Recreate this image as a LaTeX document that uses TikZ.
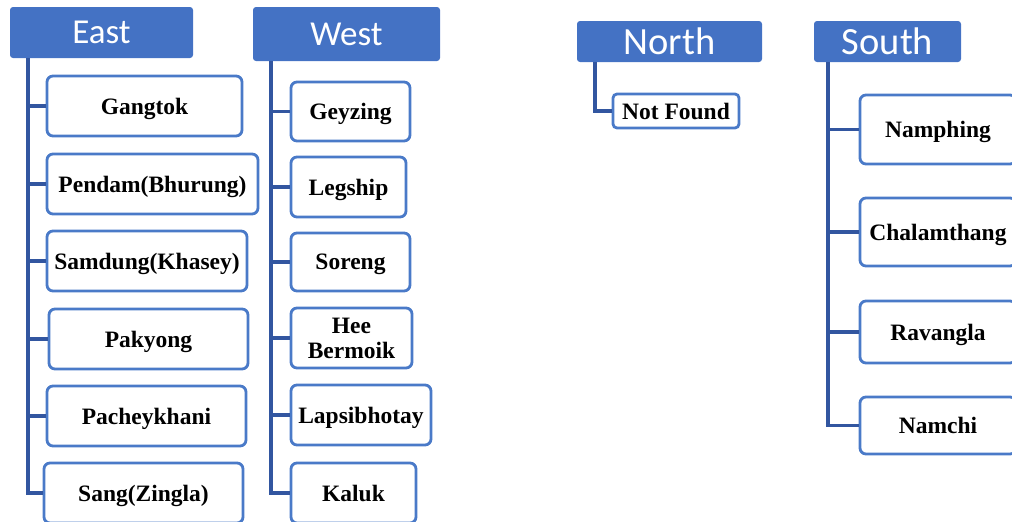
\documentclass[tikz,border=0pt]{standalone}
\usepackage{fontspec}
\setmainfont{Liberation Serif}
\newfontfamily\hdrfont{Carlito}
\definecolor{hdrblue}{RGB}{68,114,196}
\definecolor{boxblue}{RGB}{74,122,200}
\definecolor{linkblue}{RGB}{50,86,160}
\tikzset{
  hdr/.style={fill=hdrblue, draw=none, rounded corners=3pt, text=white, font=\hdrfont\fontsize{35}{36}\selectfont, inner sep=0pt},
  bighdr/.style={hdr, font=\hdrfont\fontsize{38.5}{40}\selectfont},
  leaf/.style={draw=boxblue, line width=2.8pt, fill=white, rounded corners=6pt, font=\bfseries\fontsize{23.5}{25}\selectfont, align=center, inner sep=0pt, text depth=0pt},
  conn/.style={draw=linkblue, line width=3.2pt}
}
\begin{document}
\begin{tikzpicture}[x=1pt,y=-1pt]
\useasboundingbox (0,0) rectangle (1012,522);
% headers
\node[hdr, minimum width=183pt, minimum height=51pt] (east) at (101.5,32.5) {East};
\node[hdr, minimum width=187pt, minimum height=54pt] (west) at (346.5,34) {West};
\node[bighdr, minimum width=185pt, minimum height=41pt] (north) at (669.5,41.5) {North};
\node[bighdr, minimum width=147pt, minimum height=41pt] (south) at (887.5,41.5) {South};
% stem tops
\coordinate (es) at (28,58);
\coordinate (ws) at (271,61);
\coordinate (ns) at (595,62);
\coordinate (ss) at (828,62);
% East leaves
\node[leaf, minimum width=195pt, minimum height=60pt] (e1) at (144.5,106) {Gangtok};
\node[leaf, minimum width=211pt, minimum height=60pt] (e2) at (152.5,184) {Pendam(Bhurung)};
\node[leaf, minimum width=200pt, minimum height=60pt] (e3) at (147,261) {Samdung(Khasey)};
\node[leaf, minimum width=199pt, minimum height=60pt] (e4) at (148.5,339) {Pakyong};
\node[leaf, minimum width=199pt, minimum height=60pt] (e5) at (146.5,416) {Pacheykhani};
\node[leaf, minimum width=199pt, minimum height=60pt] (e6) at (143.5,493) {Sang(Zingla)};
% West leaves
\node[leaf, minimum width=119pt, minimum height=59pt] (w1) at (350.5,111.5) {Geyzing};
\node[leaf, minimum width=115pt, minimum height=60pt] (w2) at (348.5,187) {Legship};
\node[leaf, minimum width=119pt, minimum height=58pt] (w3) at (350.5,262) {Soreng};
\node[leaf, minimum width=121pt, minimum height=60pt] (w4) at (351.5,338) {Hee\\Bermoik};
\node[leaf, minimum width=140pt, minimum height=60pt] (w5) at (361,415) {Lapsibhotay};
\node[leaf, minimum width=125pt, minimum height=60pt] (w6) at (353.5,493) {Kaluk};
% North leaf
\node[leaf, rounded corners=4pt, minimum width=126pt, minimum height=34pt] (n1) at (676,111) {Not Found};
% South leaves
\node[leaf, minimum width=156pt, minimum height=69pt] (s1) at (938,129.5) {Namphing};
\node[leaf, minimum width=156pt, minimum height=68pt] (s2) at (938,232) {Chalamthang};
\node[leaf, minimum width=156pt, minimum height=62pt] (s3) at (938,332) {Ravangla};
\node[leaf, minimum width=156pt, minimum height=57pt] (s4) at (938,425.5) {Namchi};
% connectors
\foreach \c in {e1,e2,e3,e4,e5,e6} \draw[conn] (es) |- (\c.west);
\foreach \c in {w1,w2,w3,w4,w5,w6} \draw[conn] (ws) |- (\c.west);
\draw[conn] (ns) |- (n1.west);
\foreach \c in {s1,s2,s3,s4} \draw[conn] (ss) |- (\c.west);
\end{tikzpicture}
\end{document}
